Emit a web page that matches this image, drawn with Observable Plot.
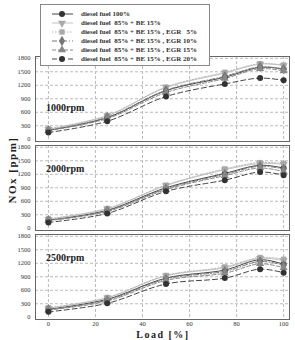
<!DOCTYPE html>
<html>
<head>
<meta charset="utf-8">
<script src="https://cdn.jsdelivr.net/npm/d3@7"></script>
<script src="https://cdn.jsdelivr.net/npm/@observablehq/plot@0.6"></script>
<style>
  html, body { margin: 0; padding: 0; background: #fff; }
  #wrap { position: relative; width: 295px; height: 340px; overflow: hidden; }
  #chart, #overlay { position: absolute; left: 0; top: 0; }
  #overlay { pointer-events: none; }
</style>
</head>
<body>
<div id="wrap"><div id="chart"></div><svg id="overlay" width="295" height="340"></svg></div>
<script>
// ---- data ----
const loads = [0, 25, 50, 75, 90, 100];
const speeds = ["1000rpm", "2000rpm", "2500rpm"];
const seriesNames = [
  "diesel fuel 100%",
  "diesel fuel  85% + BE 15%",
  "diesel fuel  85% + BE 15% , EGR   5%",
  "diesel fuel  85% + BE 15% , EGR 10%",
  "diesel fuel  85% + BE 15% , EGR 15%",
  "diesel fuel  85% + BE 15% , EGR 20%"
];
// NOx [ppm] per series, in seriesNames order, at each load
const nox1000 = [
  [200, 480, 1080, 1380, 1600, 1560],
  [220, 520, 1150, 1470, 1670, 1640],
  [230, 530, 1160, 1490, 1680, 1650],
  [200, 490, 1090, 1400, 1610, 1560],
  [190, 460, 1040, 1350, 1570, 1520],
  [150, 400, 950, 1230, 1360, 1310]
];
const nox2000 = [
  [180, 400, 900, 1220, 1400, 1340],
  [200, 430, 950, 1300, 1440, 1420],
  [210, 440, 960, 1320, 1460, 1440],
  [180, 390, 880, 1200, 1380, 1320],
  [170, 370, 860, 1170, 1340, 1260],
  [130, 330, 820, 1070, 1250, 1180]
];
const nox2500 = [
  [180, 400, 870, 1050, 1280, 1180],
  [200, 430, 920, 1100, 1310, 1260],
  [210, 440, 930, 1120, 1330, 1290],
  [170, 380, 850, 1020, 1240, 1160],
  [160, 360, 820, 980, 1190, 1100],
  [120, 310, 740, 870, 1070, 990]
];
const xTicks = [0, 20, 40, 60, 80, 100];
const yTicks = [0, 300, 600, 900, 1200, 1500, 1800];

// ---- styles ----
const styles = [
  {stroke: "#444", dash: null, symbol: "circle", fill: "#333", rotate: 0, r: 3},
  {stroke: "#c4c4c4", dash: null, symbol: "triangle", fill: "#aaa", rotate: 180, r: 3},
  {stroke: "#b8b8b8", dash: "1.5,1.5", symbol: "square", fill: "#a8a8a8", rotate: 0, r: 3},
  {stroke: "#777", dash: "5,2,1,2", symbol: "diamond", fill: "#777", rotate: 0, r: 3.2},
  {stroke: "#888", dash: "4,2", symbol: "triangle", fill: "#888", rotate: 0, r: 3},
  {stroke: "#444", dash: "5,3", symbol: "circle", fill: "#333", rotate: 0, r: 3}
];

const bySpeed = [nox1000, nox2000, nox2500];
const rows = [];
speeds.forEach((sp, k) => {
  bySpeed[k].forEach((vals, s) => {
    vals.forEach((v, i) => rows.push({speed: sp, series: s, load: loads[i], nox: v}));
  });
});

const labelY = {"1000rpm": 710, "2000rpm": 1320, "2500rpm": 1320};

const marks = [
  Plot.gridY(yTicks.slice(1), {stroke: "#bbb", strokeOpacity: 1, strokeDasharray: "3,2"}),
  Plot.gridX(xTicks, {stroke: "#bbb", strokeOpacity: 1, strokeDasharray: "3,2"}),
  Plot.frame({stroke: "#666", strokeWidth: 1}),
  Plot.axisY(yTicks, {tickSize: 0, tickPadding: 5, fontSize: 6.5, fill: "#333", label: null, tickFormat: d => String(d)}),
  Plot.axisX(xTicks, {tickSize: 0, tickPadding: 2, fontSize: 6.5, fill: "#333", label: null, tickFormat: d => String(d)}),
  Plot.text(speeds, {fy: d => d, x: -1, y: d => labelY[d], text: d => d, textAnchor: "start",
    fontSize: 10, fontWeight: "bold", fill: "#222", style: "letter-spacing:1px"})
];
styles.forEach((st, s) => {
  const d = rows.filter(r => r.series === s);
  marks.push(Plot.line(d, {x: "load", y: "nox", fy: "speed", z: "speed", stroke: st.stroke,
    strokeWidth: 1, strokeDasharray: st.dash, curve: "catmull-rom"}));
});
styles.forEach((st, s) => {
  const d = rows.filter(r => r.series === s);
  marks.push(Plot.dot(d, {x: "load", y: "nox", fy: "speed", symbol: st.symbol, r: st.r,
    fill: st.fill, stroke: "none", rotate: st.rotate}));
});

const chart = Plot.plot({
  width: 295, height: 340,
  marginLeft: 35, marginRight: 6, marginTop: 55, marginBottom: 20,
  style: {fontFamily: "Liberation Serif", background: "transparent"},
  x: {domain: [-5.5, 102.5], axis: null},
  y: {domain: [-50, 1840], axis: null},
  fy: {domain: speeds, axis: null, padding: 0.05},
  marks
});
document.getElementById("chart").appendChild(chart);

// ---- overlay: legend and axis titles ----
const ov = d3.select("#overlay");
const lg = ov.append("g");
lg.append("rect").attr("x", 40.5).attr("y", 4.5).attr("width", 169).attr("height", 61)
  .attr("fill", "#fff").attr("stroke", "#888");
styles.forEach((st, s) => {
  const y = 14 + s * 9;
  lg.append("line").attr("x1", 52).attr("x2", 73).attr("y1", y).attr("y2", y)
    .attr("stroke", st.stroke).attr("stroke-dasharray", st.dash);
  const sym = {circle: d3.symbolCircle, triangle: d3.symbolTriangle, square: d3.symbolSquare, diamond: d3.symbolDiamond}[st.symbol];
  lg.append("path").attr("d", d3.symbol(sym, Math.PI * st.r * st.r)())
    .attr("transform", `translate(62,${y}) rotate(${st.rotate})`).attr("fill", st.fill);
  lg.append("text").attr("x", 81).attr("y", y).attr("dy", "0.35em")
    .attr("font-family", "Liberation Serif").attr("font-size", 7).attr("font-weight", "bold")
    .attr("fill", "#333").attr("xml:space", "preserve").style("white-space", "pre")
    .text(seriesNames[s]);
});
ov.append("text").attr("transform", "translate(12,170) rotate(-90)").attr("text-anchor", "middle")
  .attr("dy", "0.35em").attr("font-family", "Liberation Serif").attr("font-weight", "bold")
  .attr("font-size", 11).attr("letter-spacing", "1.5px").attr("fill", "#222").text("NOx [ppm]");
ov.append("text").attr("x", 163).attr("y", 338).attr("text-anchor", "middle")
  .attr("font-family", "Liberation Serif").attr("font-weight", "bold")
  .attr("font-size", 10).attr("letter-spacing", "1.5px").attr("fill", "#222").text("Load [%]");
</script>
</body>
</html>
